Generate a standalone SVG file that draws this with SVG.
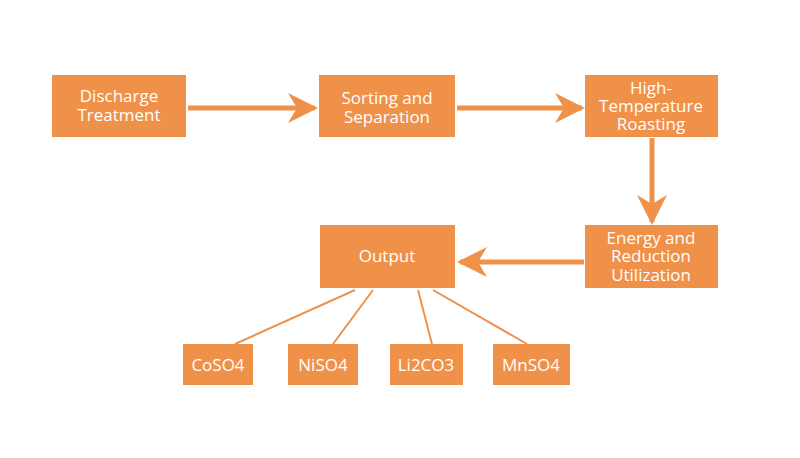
<svg xmlns="http://www.w3.org/2000/svg" width="800" height="458" viewBox="0 0 800 458">
<style>
.b{fill:#F0914A}
.t{fill:#fff;font-family:"Open Sans",sans-serif;font-size:17px;text-anchor:middle}
.a{stroke:#F0914A;stroke-width:5;fill:none}
.l{stroke:#F0914A;stroke-width:2;fill:none}
</style>
<defs><marker id="m" viewBox="0 0 10 10" refX="9" refY="5" markerWidth="6" markerHeight="6" orient="auto" markerUnits="strokeWidth"><path d="M0,0 L10,5 L0,10 L3,5 z" fill="#F0914A"/></marker></defs>
<rect width="800" height="458" fill="#fff"/>
<g id="connectors">
<line class="a" x1="188" y1="108" x2="315" y2="108" marker-end="url(#m)"/>
<line class="a" x1="457" y1="108" x2="582" y2="108" marker-end="url(#m)"/>
<line class="a" x1="652" y1="138" x2="652" y2="222" marker-end="url(#m)"/>
<line class="a" x1="584" y1="262" x2="460" y2="262" marker-end="url(#m)"/>
<line class="l" x1="355" y1="290" x2="235" y2="344"/>
<line class="l" x1="373" y1="290" x2="333" y2="344"/>
<line class="l" x1="418" y1="290" x2="432" y2="344"/>
<line class="l" x1="433" y1="290" x2="527" y2="344"/>
</g>
<g id="discharge"><rect class="b" x="52" y="75" width="134" height="62"/><text class="t" x="119" y="102">Discharge</text><text class="t" x="119" y="121">Treatment</text></g>
<g id="sorting"><rect class="b" x="319" y="75" width="136" height="62"/><text class="t" x="387" y="104">Sorting and</text><text class="t" x="387" y="123">Separation</text></g>
<g id="roasting"><rect class="b" x="585" y="75" width="133" height="62"/><text class="t" x="651" y="94">High-</text><text class="t" x="651" y="112">Temperature</text><text class="t" x="651" y="130">Roasting</text></g>
<g id="energy"><rect class="b" x="585" y="225" width="133" height="63"/><text class="t" x="651" y="244">Energy and</text><text class="t" x="651" y="262">Reduction</text><text class="t" x="651" y="281">Utilization</text></g>
<g id="output"><rect class="b" x="320" y="225" width="135" height="63"/><text class="t" x="387" y="262">Output</text></g>
<g id="coso4"><rect class="b" x="183" y="344" width="70" height="41"/><text class="t" x="218" y="371">CoSO4</text></g>
<g id="niso4"><rect class="b" x="288" y="344" width="70" height="41"/><text class="t" x="323" y="371">NiSO4</text></g>
<g id="li2co3"><rect class="b" x="390" y="344" width="73" height="41"/><text class="t" x="426" y="371">Li2CO3</text></g>
<g id="mnso4"><rect class="b" x="493" y="344" width="77" height="41"/><text class="t" x="531" y="371">MnSO4</text></g>
</svg>
